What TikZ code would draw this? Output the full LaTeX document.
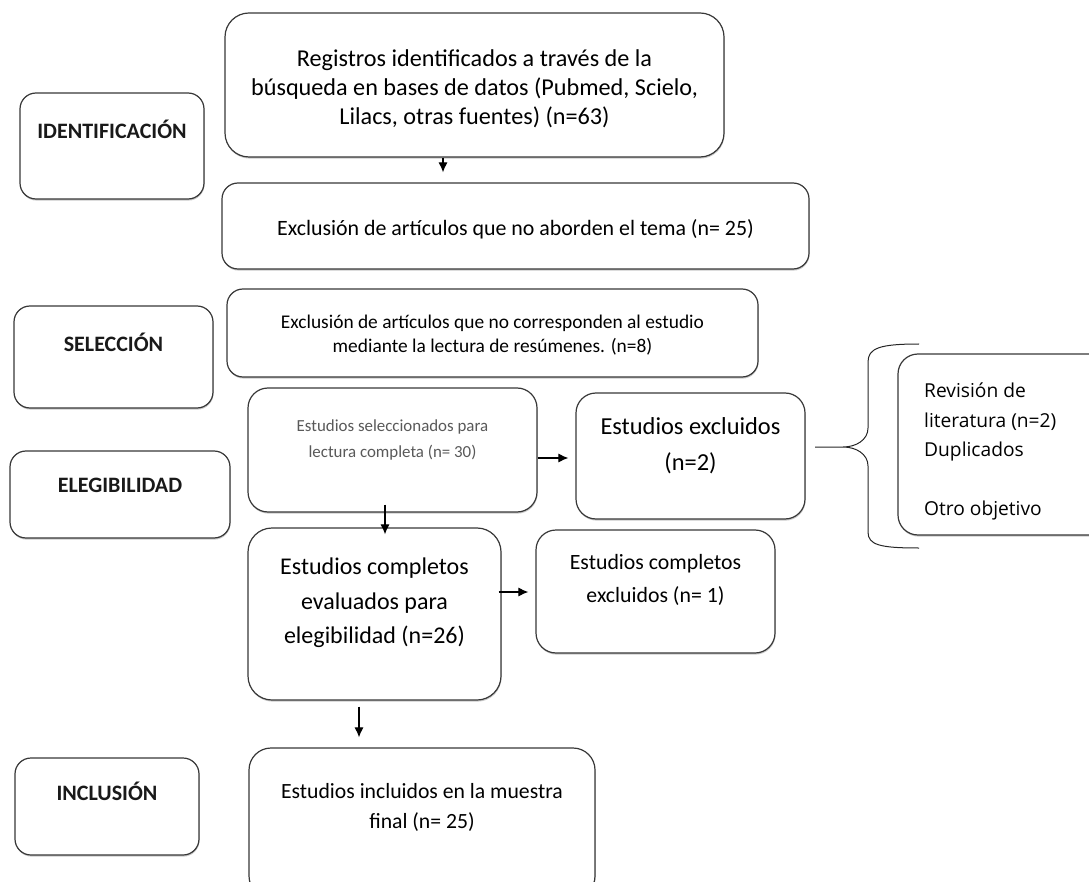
\documentclass[tikz,border=0pt]{standalone}
\usepackage{fontspec}
\setmainfont{Carlito}
\newfontfamily\revfont{Open Sans}
\usetikzlibrary{arrows.meta,shadows,calc}
\tikzset{
  box/.style={draw=black!78, line width=1.2pt, rounded corners=#1, fill=white,
    drop shadow={shadow xshift=0.5pt, shadow yshift=-1.6pt, opacity=0.35, fill=black!60},
    inner sep=0pt, align=center},
  box/.default=18pt,
  txt/.style={align=center, inner sep=0pt},
  phase/.style={font=\fontsize{22}{26}\selectfont\bfseries, text=black!90, inner sep=0pt},
  arr/.style={-{Latex[length=10pt,width=9pt]}, line width=1.1pt, black},
}
\begin{document}
\begin{tikzpicture}[x=1pt,y=-1pt]
\useasboundingbox (0,0) rectangle (1089,882);
\clip (0,0) rectangle (1089,882);
% top column
\node[box=24pt, minimum width=499pt, minimum height=144pt] (reg) at (474.5,85) {};
\node[txt, font=\fontsize{24.2}{29}\selectfont] (regt) at ([yshift=-3.5pt]reg.center)
  {Registros identificados a través de la\\búsqueda en bases de datos (Pubmed, Scielo,\\Lilacs, otras fuentes) (n=63)};
\node[box=16pt, minimum width=587pt, minimum height=86pt] (exc1) at (515.5,226) {};
\node[txt, font=\fontsize{21.9}{26}\selectfont] (exc1t) at ([yshift=-3.5pt]exc1.center)
  {Exclusión de artículos que no aborden el tema (n= 25)};
\node[box=16pt, minimum width=531pt, minimum height=88pt] (exc2) at (492.5,333) {};
\node[txt, font=\fontsize{19.4}{24}\selectfont] (exc2t) at ([yshift=-2.5pt]exc2.center)
  {Exclusión de artículos que no corresponden al estudio\\mediante la lectura de resúmenes. (n=8)};
% phase labels
\node[box=16pt, minimum width=184pt, minimum height=106pt] (id) at (112,146) {};
\node[phase] (idt) at ([yshift=17pt]id.center) {IDENTIFICACIÓN};
\node[box=16pt, minimum width=199pt, minimum height=102pt] (sel) at (113.5,357) {};
\node[phase] (selt) at ([yshift=15pt]sel.center) {SELECCIÓN};
\node[box=16pt, minimum width=220pt, minimum height=87pt] (eleg) at (120,494.5) {};
\node[phase] (elegt) at ([yshift=9.5pt]eleg.center) {ELEGIBILIDAD};
\node[box=16pt, minimum width=184pt, minimum height=97pt] (incl) at (107,806.5) {};
\node[phase] (inclt) at ([yshift=15pt]incl.center) {INCLUSIÓN};
% eligibility row
\node[box=20pt, minimum width=289pt, minimum height=124pt] (ssel) at (392.5,450) {};
\node[txt, font=\fontsize{16.9}{26}\selectfont, text=black!65] (sselt) at ([yshift=10pt]ssel.center)
  {Estudios seleccionados para\\lectura completa (n= 30)};
\node[box=20pt, minimum width=229pt, minimum height=126pt] (excl) at (690.5,456) {};
\node[txt, font=\fontsize{24.4}{36}\selectfont] (exclt) at ([yshift=10.5pt]excl.center)
  {Estudios excluidos\\(n=2)};
\node[box=20pt, minimum width=260pt, minimum height=181pt] (rev) at (1028,444.5) {};
\node[font=\revfont\fontsize{19.2}{29.5}\selectfont, align=left, anchor=north west, inner sep=0pt] (revt) at (924,383)
  {Revisión de\\literatura (n=2)\\Duplicados\\\\Otro objetivo};
\draw[line width=1pt, black!85] (919,344) .. controls (880,344) and (868,348) .. (868,362)
  -- (868,428) .. controls (868,440) and (856,447) .. (843,447) -- (815,447)
  (843,447) .. controls (856,447) and (868,454) .. (868,466)
  -- (868,532) .. controls (868,545) and (880,548) .. (919,548);
% completos
\node[box=24pt, minimum width=253pt, minimum height=172pt] (comp) at (374.5,614) {};
\node[txt, font=\fontsize{24}{34.5}\selectfont] (compt) at ([yshift=11pt]comp.center)
  {Estudios completos\\evaluados para\\elegibilidad (n=26)};
\node[box=20pt, minimum width=239pt, minimum height=123pt] (cexc) at (655.5,591.5) {};
\node[txt, font=\fontsize{21.8}{33}\selectfont] (cexct) at ([yshift=11.5pt]cexc.center)
  {Estudios completos\\excluidos (n= 1)};
\node[box=22pt, minimum width=346pt, minimum height=150pt] (inc) at (422,823) {};
\node[txt, font=\fontsize{21.7}{30}\selectfont] (inct) at ([yshift=16pt]inc.center)
  {Estudios incluidos en la muestra\\final (n= 25)};
% arrows
\draw[arr] ([xshift=-31.5pt]reg.south) -- ([xshift=-72.5pt,yshift=10pt]exc1.north);
\draw[arr] ([yshift=-8pt]ssel.east) -- ([xshift=-7pt,yshift=-2pt]excl.west);
\draw[arr] ([xshift=-7.5pt,yshift=8pt]ssel.south) -- ([xshift=10.5pt,yshift=-7pt]comp.north);
\draw[arr] ([xshift=-3pt,yshift=22pt]comp.east) -- ([xshift=-7pt,yshift=-0.5pt]cexc.west);
\draw[arr] ([xshift=-15.5pt,yshift=-6pt]comp.south) -- ([xshift=-63pt,yshift=10pt]inc.north);
\end{tikzpicture}
\end{document}
